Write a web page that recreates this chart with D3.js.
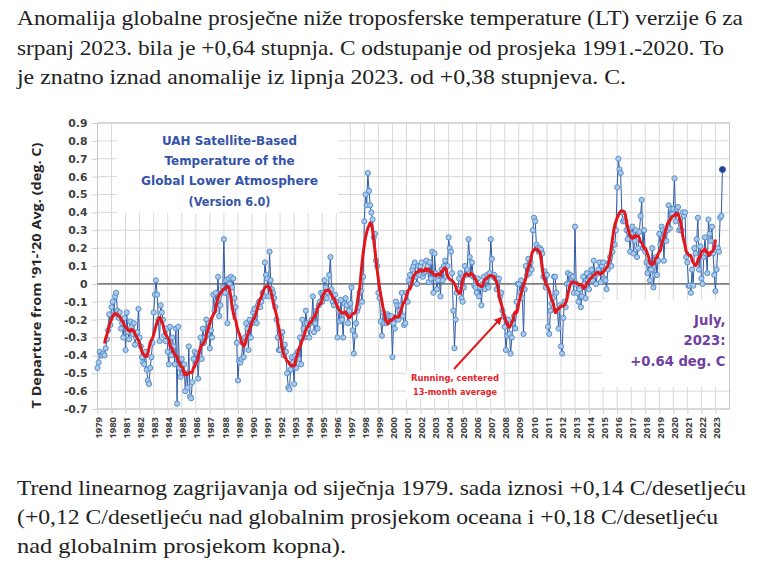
<!DOCTYPE html>
<html>
<head>
<meta charset="utf-8">
<script src="https://cdn.jsdelivr.net/npm/d3@7"></script>
<style>
  body { margin: 0; background: #fff; }
  svg { display: block; }
</style>
</head>
<body>
<div id="chart"></div>
<script>
// UAH v6.0 global lower troposphere, monthly departures from the 1991-2020 average (deg. C)
const t1979 = [-0.47, -0.44, -0.38, -0.40, -0.40, -0.39, -0.40, -0.36, -0.31, -0.26, -0.17, -0.23];
const t1980 = [-0.13, -0.10, -0.17, -0.07, -0.05, -0.15, -0.19, -0.16, -0.25, -0.22, -0.30, -0.19];
const t1981 = [-0.37, -0.16, -0.27, -0.31, -0.21, -0.24, -0.28, -0.22, -0.34, -0.30, -0.27, -0.14];
const t1982 = [-0.30, -0.35, -0.41, -0.44, -0.45, -0.38, -0.48, -0.54, -0.56, -0.47, -0.41, -0.33];
const t1983 = [-0.16, -0.06, 0.02, -0.06, -0.20, -0.32, -0.12, -0.16, -0.20, -0.29, -0.32, -0.25];
const t1984 = [-0.38, -0.45, -0.24, -0.40, -0.30, -0.35, -0.45, -0.25, -0.67, -0.24, -0.47, -0.52];
const t1985 = [-0.42, -0.50, -0.45, -0.60, -0.50, -0.58, -0.35, -0.63, -0.64, -0.55, -0.42, -0.38];
const t1986 = [-0.44, -0.39, -0.53, -0.40, -0.30, -0.42, -0.25, -0.33, -0.30, -0.20, -0.28, -0.22];
const t1987 = [-0.36, -0.26, -0.30, -0.06, -0.15, -0.05, -0.10, 0.04, -0.18, -0.12, -0.05, -0.02];
const t1988 = [0.25, -0.05, 0.02, -0.22, 0.03, 0.00, 0.04, -0.02, 0.03, -0.08, -0.13, -0.33];
const t1989 = [-0.54, -0.43, -0.44, -0.42, -0.33, -0.41, -0.30, -0.22, -0.25, -0.37, -0.20, -0.30];
const t1990 = [-0.22, -0.16, -0.14, -0.18, -0.22, -0.12, -0.10, -0.13, -0.10, -0.05, -0.07, 0.12];
const t1991 = [0.05, 0.03, -0.07, 0.18, 0.02, -0.03, -0.05, -0.08, -0.13, -0.20, -0.30, -0.37];
const t1992 = [-0.37, -0.30, -0.27, -0.40, -0.34, -0.38, -0.50, -0.58, -0.59, -0.48, -0.41, -0.44];
const t1993 = [-0.56, -0.40, -0.47, -0.38, -0.42, -0.30, -0.45, -0.20, -0.25, -0.30, -0.15, -0.22];
const t1994 = [-0.25, -0.30, -0.22, -0.20, -0.07, -0.27, -0.22, -0.15, -0.25, -0.12, -0.10, -0.05];
const t1995 = [-0.10, -0.05, 0.02, -0.02, -0.08, -0.05, 0.05, 0.15, -0.03, -0.10, -0.12, -0.06];
const t1996 = [-0.10, -0.30, -0.15, -0.21, -0.09, -0.20, -0.30, -0.11, -0.08, -0.12, -0.22, -0.15];
const t1997 = [-0.11, -0.02, -0.26, -0.39, -0.29, -0.22, -0.15, -0.13, -0.05, -0.04, -0.10, 0.04];
const t1998 = [0.35, 0.50, 0.44, 0.62, 0.52, 0.44, 0.40, 0.36, 0.26, 0.28, 0.13, 0.10];
const t1999 = [-0.05, -0.08, -0.21, -0.29, -0.16, -0.22, -0.18, -0.22, -0.17, -0.18, -0.21, -0.18];
const t2000 = [-0.41, -0.22, -0.25, -0.10, -0.12, -0.20, -0.15, -0.12, -0.05, -0.18, -0.23, -0.22];
const t2001 = [-0.05, -0.10, 0.02, 0.05, 0.00, 0.08, 0.10, 0.12, 0.04, 0.00, 0.10, 0.05];
const t2002 = [0.10, 0.12, 0.04, 0.06, 0.07, 0.13, 0.10, 0.01, 0.12, 0.03, 0.18, -0.05];
const t2003 = [0.17, 0.06, -0.03, 0.02, 0.05, -0.07, 0.08, 0.02, 0.10, 0.13, 0.04, 0.10];
const t2004 = [0.26, 0.20, 0.18, 0.06, -0.15, -0.36, -0.20, -0.05, -0.03, 0.03, 0.06, -0.08];
const t2005 = [-0.10, -0.02, 0.10, 0.05, 0.08, 0.25, 0.15, 0.05, 0.12, 0.04, -0.01, -0.02];
const t2006 = [-0.05, 0.03, -0.07, -0.02, -0.12, 0.00, 0.04, -0.03, 0.02, 0.05, -0.02, 0.06];
const t2007 = [0.25, 0.14, 0.04, 0.05, 0.03, -0.03, 0.01, 0.03, -0.07, -0.05, -0.15, -0.18];
const t2008 = [-0.24, -0.37, -0.29, -0.20, -0.28, -0.39, -0.30, -0.22, -0.18, -0.25, -0.10, 0.00];
const t2009 = [0.00, -0.05, 0.02, -0.08, -0.28, -0.03, 0.10, 0.05, 0.14, 0.06, 0.12, 0.08];
const t2010 = [0.30, 0.37, 0.35, 0.22, 0.20, 0.18, 0.20, 0.19, 0.17, 0.04, 0.07, -0.02];
const t2011 = [0.05, -0.24, -0.28, -0.15, -0.11, -0.08, 0.04, 0.04, -0.05, -0.15, -0.25, -0.12];
const t2012 = [-0.35, -0.39, -0.19, -0.10, -0.13, 0.00, 0.06, 0.00, 0.05, 0.03, 0.04, -0.05];
const t2013 = [0.32, 0.00, -0.05, -0.10, -0.03, -0.13, -0.07, 0.04, 0.00, -0.08, 0.06, 0.02];
const t2014 = [-0.03, 0.04, 0.08, 0.02, 0.13, 0.05, 0.00, 0.06, 0.08, 0.12, 0.01, 0.10];
const t2015 = [0.12, 0.03, 0.02, -0.03, 0.08, 0.12, 0.15, 0.10, 0.18, 0.22, 0.22, 0.30];
const t2016 = [0.54, 0.70, 0.64, 0.62, 0.40, 0.35, 0.36, 0.35, 0.30, 0.25, 0.29, 0.18];
const t2017 = [0.28, 0.32, 0.17, 0.24, 0.30, 0.15, 0.20, 0.29, 0.38, 0.47, 0.20, 0.30];
const t2018 = [0.18, 0.12, 0.06, 0.11, 0.02, 0.08, 0.20, -0.02, 0.05, 0.15, 0.05, 0.13];
const t2019 = [0.28, 0.22, 0.32, 0.30, 0.13, 0.29, 0.24, 0.30, 0.44, 0.31, 0.42, 0.39];
const t2020 = [0.42, 0.59, 0.35, 0.42, 0.43, 0.30, 0.31, 0.30, 0.40, 0.38, 0.40, 0.15];
const t2021 = [0.12, -0.01, -0.01, -0.05, 0.08, -0.01, 0.20, 0.17, 0.25, 0.37, 0.08, 0.21];
const t2022 = [0.03, 0.00, 0.15, 0.26, 0.17, 0.06, 0.36, 0.28, 0.24, 0.32, 0.17, 0.05];
const t2023 = [-0.04, 0.08, 0.20, 0.18, 0.37, 0.38, 0.64];

const yearLabels = ['1979', '1980', '1981', '1982', '1983', '1984', '1985', '1986', '1987',
    '1988', '1989', '1990', '1991', '1992', '1993', '1994', '1995', '1996', '1997', '1998',
    '1999', '2000', '2001', '2002', '2003', '2004', '2005', '2006', '2007', '2008', '2009',
    '2010', '2011', '2012', '2013', '2014', '2015', '2016', '2017', '2018', '2019', '2020',
    '2021', '2022', '2023'];
const yTicks = [0.9, 0.8, 0.7, 0.6, 0.5, 0.4, 0.3, 0.2, 0.1, 0, -0.1, -0.2, -0.3, -0.4, -0.5, -0.6, -0.7];

const titleLines = ['UAH Satellite-Based', 'Temperature of the', 'Global Lower Atmosphere', '(Version 6.0)'];
const latestLines = ['July,', '2023:', '+0.64 deg. C'];
const runningLines = ['Running, centered', '13-month average'];
const yTitle = "T Departure from '91-'20 Avg. (deg. C)";

const topText = [
    'Anomalija globalne prosječne niže troposferske temperature (LT) verzije 6 za',
    'srpanj 2023. bila je +0,64 stupnja. C odstupanje od prosjeka 1991.-2020. To',
    'je znatno iznad anomalije iz lipnja 2023. od +0,38 stupnjeva. C.'
];
const bottomText = [
    'Trend linearnog zagrijavanja od siječnja 1979. sada iznosi +0,14 C/desetljeću',
    '(+0,12 C/desetljeću nad globalnim prosjekom oceana i +0,18 C/desetljeću',
    'nad globalnim prosjekom kopna).'
];

// one value per month, Jan 1979 .. Jul 2023
const anomalies = [].concat(t1979, t1980, t1981, t1982, t1983, t1984, t1985, t1986, t1987,
    t1988, t1989, t1990, t1991, t1992, t1993, t1994, t1995, t1996, t1997, t1998, t1999,
    t2000, t2001, t2002, t2003, t2004, t2005, t2006, t2007, t2008, t2009, t2010, t2011,
    t2012, t2013, t2014, t2015, t2016, t2017, t2018, t2019, t2020, t2021, t2022, t2023);
const points = anomalies.map((v, i) => ({ m: i, v: v }));

// centered 13-month running mean
const running = [];
for (let i = 6; i < anomalies.length - 6; i++) {
    running.push({ m: i, v: d3.mean(anomalies.slice(i - 6, i + 7)) });
}

// first installed font of the list (a missing one falls back differently to mono and sans)
function pickFont(candidates) {
    const ctx = document.createElement('canvas').getContext('2d');
    const sample = 'Anomalija globalne prosjecne 2023 mmmWWiil';
    for (const f of candidates) {
        ctx.font = `40px "${f}", monospace`;
        const a = ctx.measureText(sample).width;
        ctx.font = `40px "${f}", sans-serif`;
        const b = ctx.measureText(sample).width;
        if (Math.abs(a - b) < 0.01) return `"${f}"`;
    }
    return '"Liberation Sans"';
}
const bodyFont = pickFont(['Liberation Serif', 'DejaVu Serif', 'Noto Serif', 'Tinos', 'Times New Roman']);
const bodySize = bodyFont.indexOf('Sans') >= 0 ? '19.5px' : '21px';

const W = 767, H = 567;
const svg = d3.select('#chart').append('svg')
    .attr('width', W)
    .attr('height', H);

// paragraphs above and below the chart
function paragraph(lines, baselines, widths) {
    svg.append('g').selectAll('text')
        .data(lines)
        .enter()
        .append('text')
        .attr('x', 17)
        .attr('y', (d, i) => baselines[i])
        .attr('textLength', (d, i) => widths[i])
        .attr('lengthAdjust', 'spacingAndGlyphs')
        .style('font-family', bodyFont + ', serif')
        .style('font-size', bodySize)
        .style('fill', '#222')
        .text(d => d);
}
paragraph(topText, [25, 54.5, 84], [726, 707, 609]);
paragraph(bottomText, [495, 524, 553], [729, 701, 329]);

// scales: months on x, anomaly on y
const x = d3.scaleLinear().domain([0, 540]).range([97.5, 729.5]);
const y = d3.scaleLinear().domain([-0.7, 0.9]).range([409, 123]);
const yearMonths = yearLabels.map((d, i) => i * 12);

const plot = svg.append('g');

// grid
plot.append('g').selectAll('line')
    .data(yearMonths.concat([540]))
    .enter()
    .append('line')
    .attr('x1', d => x(d)).attr('x2', d => x(d))
    .attr('y1', y(0.9)).attr('y2', y(-0.7))
    .style('stroke', '#d9d9d9')
    .style('stroke-width', 1);
plot.append('g').selectAll('line')
    .data(yTicks)
    .enter()
    .append('line')
    .attr('x1', x(0)).attr('x2', x(540))
    .attr('y1', d => y(d)).attr('y2', d => y(d))
    .style('stroke', '#d9d9d9')
    .style('stroke-width', 1);

// white text boxes that hide the grid
plot.append('rect')
    .attr('x', 117).attr('y', 124).attr('width', 221).attr('height', 89)
    .style('fill', '#fff');
plot.append('rect')
    .attr('x', 602).attr('y', 300).attr('width', 127).attr('height', 87)
    .style('fill', '#fff');
plot.append('rect')
    .attr('x', 406).attr('y', 371).attr('width', 97).attr('height', 28)
    .style('fill', '#fff');

// border of the plot area
plot.append('rect')
    .attr('x', x(0)).attr('y', y(0.9))
    .attr('width', x(540) - x(0)).attr('height', y(-0.7) - y(0.9))
    .style('fill', 'none')
    .style('stroke', '#c6c6c6')
    .style('stroke-width', 1);

// Y axis
const yAxis = svg.append('g')
    .attr('transform', `translate(${x(0)}, 0)`)
    .call(d3.axisLeft(y)
        .tickValues(yTicks)
        .tickSize(6)
        .tickPadding(4)
        .tickFormat(d => d === 0 ? '0' : d.toFixed(1)));
yAxis.select('.domain').remove();
yAxis.selectAll('line').style('stroke', '#d0d0d0');
yAxis.selectAll('text')
    .style('font-family', '"DejaVu Sans", sans-serif')
    .style('font-weight', 'bold')
    .style('font-size', '10.8px')
    .style('fill', '#404040');

// X axis: one label per January
const xAxis = svg.append('g')
    .attr('transform', `translate(0, ${y(-0.7)})`)
    .call(d3.axisBottom(x)
        .tickValues(yearMonths)
        .tickSize(5)
        .tickFormat((d, i) => yearLabels[i]));
xAxis.select('.domain').remove();
xAxis.selectAll('line').style('stroke', '#d0d0d0');
xAxis.selectAll('text')
    .attr('transform', 'rotate(-90)')
    .attr('x', -8)
    .attr('y', 0.8)
    .attr('dy', '0.35em')
    .attr('text-anchor', 'end')
    .style('font-family', '"Open Sans", sans-serif')
    .style('font-weight', 'bold')
    .style('font-size', '9.5px')
    .style('fill', '#404040');

// Y axis title
svg.append('text')
    .attr('transform', 'translate(37, 275.5) rotate(-90)')
    .attr('text-anchor', 'middle')
    .attr('dy', '0.35em')
    .attr('textLength', 266)
    .attr('lengthAdjust', 'spacingAndGlyphs')
    .style('font-family', '"Open Sans", sans-serif')
    .style('font-weight', 'bold')
    .style('font-size', '12px')
    .style('fill', '#262626')
    .text(yTitle);

// zero line
plot.append('line')
    .attr('x1', x(0)).attr('x2', x(540))
    .attr('y1', y(0)).attr('y2', y(0))
    .style('stroke', '#7f7f7f')
    .style('stroke-width', 1.6);

// monthly series
const monthLine = d3.line()
    .x(d => x(d.m))
    .y(d => y(d.v));

plot.append('path')
    .datum(points)
    .attr('d', monthLine)
    .style('fill', 'none')
    .style('stroke', '#2f5aa6')
    .style('stroke-width', 1);

plot.append('g').selectAll('circle')
    .data(points.slice(0, -1))
    .enter()
    .append('circle')
    .attr('cx', d => x(d.m))
    .attr('cy', d => y(d.v))
    .attr('r', 2.6)
    .style('fill', '#a9cbeb')
    .style('stroke', '#4f86c6')
    .style('stroke-width', 0.9);

plot.append('circle')
    .datum(points[points.length - 1])
    .attr('cx', d => x(d.m))
    .attr('cy', d => y(d.v))
    .attr('r', 3)
    .style('fill', '#203f8c')
    .style('stroke', '#2f5aa6');

// running mean
plot.append('path')
    .datum(running)
    .attr('d', monthLine.curve(d3.curveMonotoneX))
    .style('fill', 'none')
    .style('stroke', '#e3161c')
    .style('stroke-width', 3)
    .style('stroke-linejoin', 'round');

// arrow to the running mean
svg.append('defs').append('marker')
    .attr('id', 'head')
    .attr('viewBox', '0 0 10 10')
    .attr('refX', 8).attr('refY', 5)
    .attr('markerWidth', 4).attr('markerHeight', 4)
    .attr('orient', 'auto')
    .append('path')
    .attr('d', 'M0,0 L10,5 L0,10 z')
    .style('fill', '#e3161c');

plot.append('line')
    .attr('x1', x(304.6)).attr('y1', y(-0.476))
    .attr('x2', x(344.8)).attr('y2', y(-0.19))
    .attr('marker-end', 'url(#head)')
    .style('stroke', '#e3161c')
    .style('stroke-width', 2);

// annotations
svg.append('g').selectAll('text')
    .data(titleLines)
    .enter()
    .append('text')
    .attr('x', 229.5)
    .attr('y', (d, i) => 145 + i * 20.2)
    .attr('text-anchor', 'middle')
    .attr('textLength', (d, i) => [135, 130, 177, 82][i])
    .attr('lengthAdjust', 'spacingAndGlyphs')
    .style('font-family', '"DejaVu Sans", sans-serif')
    .style('font-weight', 'bold')
    .style('font-size', '12.2px')
    .style('fill', '#3454a8')
    .text(d => d);

svg.append('g').selectAll('text')
    .data(latestLines)
    .enter()
    .append('text')
    .attr('x', 725.5)
    .attr('y', (d, i) => 324.5 + i * 20.5)
    .attr('text-anchor', 'end')
    .style('font-family', '"DejaVu Sans", sans-serif')
    .style('font-weight', 'bold')
    .style('font-size', '13.2px')
    .style('fill', '#7040a0')
    .text(d => d);

svg.append('g').selectAll('text')
    .data(runningLines)
    .enter()
    .append('text')
    .attr('x', 455)
    .attr('y', (d, i) => 381 + i * 13.5)
    .attr('text-anchor', 'middle')
    .attr('textLength', (d, i) => [88, 84][i])
    .attr('lengthAdjust', 'spacingAndGlyphs')
    .style('font-family', '"DejaVu Sans", sans-serif')
    .style('font-weight', 'bold')
    .style('font-size', '8.6px')
    .style('fill', '#e3262c')
    .text(d => d);
</script>
</body>
</html>
